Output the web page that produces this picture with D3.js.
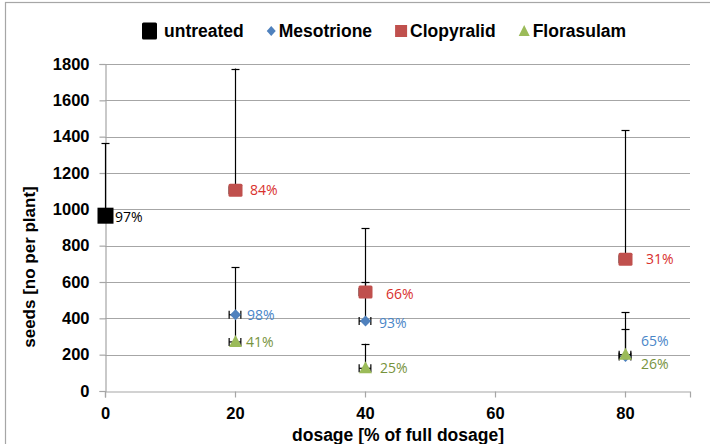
<!DOCTYPE html>
<html><head><meta charset="utf-8">
<script src="https://cdn.jsdelivr.net/npm/d3@7"></script>
<style>body{margin:0;background:#fff}svg{display:block}</style>
</head><body><svg id="c" width="710" height="444"></svg>
<script>
const seriesNames = ["untreated", "Mesotrione", "Clopyralid", "Florasulam"];
const xTicks = [0, 20, 40, 60, 80];
const yTicks = [0, 200, 400, 600, 800, 1000, 1200, 1400, 1600, 1800];

const untreatedX = [0];
const untreatedY = [965];
const untreatedErr = [400];
const untreatedLabels = ["97%"];

const mesoX = [20, 40, 80];
const mesoY = [420, 385, 190];
const mesoErr = [260, 215, 245];
const mesoLabels = ["98%", "93%", "65%"];

const clopX = [20, 40, 80];
const clopY = [1105, 545, 725];
const clopErr = [670, 350, 710];
const clopLabels = ["84%", "66%", "31%"];

const floraX = [20, 40, 80];
const floraY = [270, 125, 200];
const floraErr = [150, 135, 140];
const floraLabels = ["41%", "25%", "26%"];

const xErr = 0.9;

const svg = d3.select("#c");
const x = d3.scaleLinear().domain([0, 90]).range([105, 690]);
const y = d3.scaleLinear().domain([0, 1800]).range([391, 64]);

// outer border
svg.append("rect").attr("x", 5.5).attr("y", 2.5).attr("width", 720).attr("height", 460)
  .attr("fill", "none").attr("stroke", "#a6a6a6").attr("stroke-width", 1.2);

// gridlines
svg.append("g").selectAll("line").data(yTicks.filter(d => d > 0)).join("line")
  .attr("x1", x(0)).attr("x2", x(90)).attr("y1", d => Math.round(y(d)) + 0.5).attr("y2", d => Math.round(y(d)) + 0.5)
  .attr("stroke", "#a6a6a6").attr("stroke-width", 1.2);

const fontAx = "'Liberation Sans', Arial, sans-serif";

// y axis
const yAxis = svg.append("g").attr("transform", `translate(${x(0) + 0.5},0)`)
  .call(d3.axisLeft(y).tickValues(yTicks).tickSize(6).tickPadding(10).tickFormat(d3.format("d")));
yAxis.select(".domain").attr("stroke", "#a6a6a6").attr("stroke-width", 1.2);
yAxis.selectAll(".tick line").attr("stroke", "#a6a6a6").attr("stroke-width", 1.2);
yAxis.selectAll("text").attr("font-family", fontAx).attr("font-weight", "bold").attr("font-size", 16.5).attr("fill", "#000");

// x axis
const xAxis = svg.append("g").attr("transform", `translate(0,${Math.round(y(0)) + 0.5})`)
  .call(d3.axisBottom(x).tickValues(xTicks).tickSize(6).tickPadding(10).tickFormat(d3.format("d")));
xAxis.select(".domain").attr("stroke", "#a6a6a6").attr("stroke-width", 1.2);
xAxis.selectAll(".tick line").attr("stroke", "#a6a6a6").attr("stroke-width", 1.2);
xAxis.selectAll("text").attr("font-family", fontAx).attr("font-weight", "bold").attr("font-size", 16.5).attr("fill", "#000");

// axis titles
svg.append("text").attr("x", 398).attr("y", 441).attr("text-anchor", "middle")
  .attr("font-family", fontAx).attr("font-weight", "bold").attr("font-size", 17.5).text("dosage [% of full dosage]");
svg.append("text").attr("transform", "translate(35,267) rotate(-90)").attr("text-anchor", "middle")
  .attr("font-family", fontAx).attr("font-weight", "bold").attr("font-size", 17).text("seeds [no per plant]");

const series = [
  {name: "untreated", xs: untreatedX, ys: untreatedY, err: untreatedErr, labels: untreatedLabels,
   color: "#000000", labelColor: "#000000", shape: "bigsquare", xbar: false,
   off: [[10, 1]]},
  {name: "Clopyralid", xs: clopX, ys: clopY, err: clopErr, labels: clopLabels,
   color: "#c0504d", labelColor: "#d9302c", shape: "square", xbar: true,
   off: [[15, 0], [21, 2], [21, 0]]},
  {name: "Mesotrione", xs: mesoX, ys: mesoY, err: mesoErr, labels: mesoLabels,
   color: "#4f81bd", labelColor: "#4a86c8", shape: "diamond", xbar: true,
   off: [[12, 0], [14, 2], [16, -16]]},
  {name: "Florasulam", xs: floraX, ys: floraY, err: floraErr, labels: floraLabels,
   color: "#9bbb59", labelColor: "#77933c", shape: "triangle", xbar: true,
   off: [[11, 0], [15, 0], [16, 9]]}
];

function drawMarker(g, shape, color, cx, cy) {
  if (shape === "bigsquare") {
    g.append("rect").attr("x", cx - 8).attr("y", cy - 8).attr("width", 16).attr("height", 16).attr("fill", color);
  } else if (shape === "square") {
    g.append("rect").attr("x", cx - 7).attr("y", cy - 6.5).attr("width", 14).attr("height", 13).attr("rx", 1.5).attr("fill", color);
  } else if (shape === "diamond") {
    g.append("path").attr("d", `M${cx},${cy - 5.5}L${cx + 5.5},${cy}L${cx},${cy + 5.5}L${cx - 5.5},${cy}Z`).attr("fill", color);
  } else if (shape === "triangle") {
    g.append("path").attr("d", `M${cx},${cy - 7}L${cx + 6.5},${cy + 5}L${cx - 6.5},${cy + 5}Z`).attr("fill", color);
  }
}

// error bars
const eb = svg.append("g").attr("stroke", "#000").attr("stroke-width", 1.2).attr("fill", "none");
series.forEach(s => {
  s.xs.forEach((xv, i) => {
    const cx = x(xv) + 0.5, cy = y(s.ys[i]), top = y(s.ys[i] + s.err[i]);
    eb.append("line").attr("x1", cx).attr("x2", cx).attr("y1", cy).attr("y2", top);
    eb.append("line").attr("x1", cx - 4).attr("x2", cx + 4).attr("y1", Math.round(top) + 0.5).attr("y2", Math.round(top) + 0.5);
    if (s.xbar) {
      const xl = x(xv - xErr), xr = x(xv + xErr);
      eb.append("line").attr("x1", xl).attr("x2", xr).attr("y1", cy).attr("y2", cy);
      eb.append("line").attr("x1", xl).attr("x2", xl).attr("y1", cy - 4).attr("y2", cy + 4);
      eb.append("line").attr("x1", xr).attr("x2", xr).attr("y1", cy - 4).attr("y2", cy + 4);
    }
  });
});

// markers
const mk = svg.append("g");
series.forEach(s => {
  s.xs.forEach((xv, i) => drawMarker(mk, s.shape, s.color, x(xv) + 0.5, y(s.ys[i])));
});

// data labels
const lb = svg.append("g").attr("font-family", "'Open Sans', 'Noto Sans', sans-serif").attr("font-size", 14);
series.forEach(s => {
  s.xs.forEach((xv, i) => {
    lb.append("text").attr("x", x(xv) + s.off[i][0]).attr("y", y(s.ys[i]) + s.off[i][1])
      .attr("dy", "0.36em").attr("fill", s.labelColor).text(s.labels[i]);
  });
});

// legend
const legendItems = [
  {name: seriesNames[0], shape: "bigsquare", color: "#000", w: 15},
  {name: seriesNames[1], shape: "diamond", color: "#4f81bd", w: 10},
  {name: seriesNames[2], shape: "square", color: "#c0504d", w: 13},
  {name: seriesNames[3], shape: "triangle", color: "#9bbb59", w: 12}
];
const lg = svg.append("g");
let cursor = 0;
const ly = 31;
legendItems.forEach((it, k) => {
  const g = lg.append("g");
  if (it.shape === "bigsquare") {
    g.append("rect").attr("x", cursor).attr("y", ly - 8.5).attr("width", 15).attr("height", 17).attr("rx", 1.5).attr("fill", it.color);
  } else if (it.shape === "diamond") {
    g.append("path").attr("d", `M${cursor + 4.5},${ly - 5}L${cursor + 9},${ly}L${cursor + 4.5},${ly + 5}L${cursor},${ly}Z`).attr("fill", it.color);
  } else if (it.shape === "square") {
    g.append("rect").attr("x", cursor).attr("y", ly - 6).attr("width", 12).attr("height", 12).attr("fill", it.color);
  } else {
    g.append("path").attr("d", `M${cursor + 5.5},${ly - 6}L${cursor + 11},${ly + 5}L${cursor},${ly + 5}Z`).attr("fill", it.color);
  }
  const gap = it.shape === "bigsquare" ? 7 : 2;
  const t = g.append("text").attr("x", cursor + it.w + gap).attr("y", ly).attr("dy", "0.36em")
    .attr("font-family", fontAx).attr("font-weight", "bold").attr("font-size", 17.5).text(it.name);
  cursor = cursor + it.w + gap + t.node().getComputedTextLength() + 23;
});
lg.attr("transform", `translate(142,0)`);
</script>
</body></html>
